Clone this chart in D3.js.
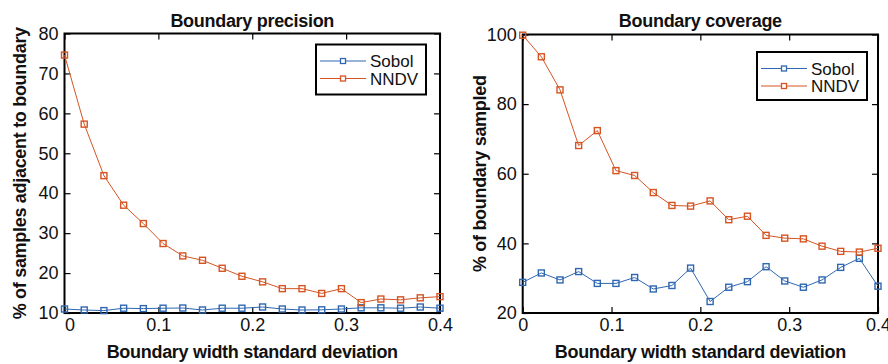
<!DOCTYPE html>
<html>
<head>
<meta charset="utf-8">
<script src="https://cdn.jsdelivr.net/npm/d3@7"></script>
<style>
  body { margin: 0; background: #fff; }
  svg text { font-family: "Liberation Sans", Arial, sans-serif; fill: #111; }
  .title, .xlabel, .ylabel { font-weight: bold; font-size: 18px; letter-spacing: -0.3px; }
  .tick text { font-size: 18px; }
  .legend text { font-size: 17px; }
</style>
</head>
<body>
<div id="chart"></div>
<script>
// x positions: 20 evenly spaced widths from 0 to 0.4
var widths = [0, 0.021, 0.042, 0.063, 0.084, 0.105, 0.126, 0.147, 0.168, 0.189,
  0.211, 0.232, 0.253, 0.274, 0.295, 0.316, 0.337, 0.358, 0.379, 0.4];

// Boundary precision (% of samples adjacent to boundary)
var precisionSobol = [11.0, 10.75, 10.6, 11.2, 11.1, 11.2, 11.25, 10.75, 11.2, 11.2,
  11.5, 11.0, 10.75, 10.8, 11.0, 11.3, 11.3, 11.2, 11.5, 11.2];
var precisionNNDV = [74.6, 57.3, 44.4, 37.0, 32.4, 27.4, 24.3, 23.2, 21.2, 19.2,
  17.8, 16.1, 16.1, 14.9, 16.1, 12.6, 13.5, 13.3, 13.8, 14.1];

// Boundary coverage (% of boundary sampled)
var coverageSobol = [28.8, 31.5, 29.5, 31.9, 28.5, 28.5, 30.2, 26.9, 27.9, 32.9,
  23.3, 27.4, 29.0, 33.3, 29.2, 27.4, 29.5, 33.1, 35.7, 27.7];
var coverageNNDV = [99.8, 93.6, 84.1, 68.1, 72.4, 60.9, 59.5, 54.6, 50.9, 50.7,
  52.2, 46.8, 47.8, 42.3, 41.5, 41.3, 39.2, 37.7, 37.5, 38.6];

var xTicks = [0, 0.1, 0.2, 0.3, 0.4];
var precisionTicks = [10, 20, 30, 40, 50, 60, 70, 80];
var coverageTicks = [20, 40, 60, 80, 100];
var seriesNames = ['Sobol', 'NNDV'];
var colors = ['#2f67b1', '#d55422'];

var svg = d3.select("#chart").append("svg")
  .attr("width", 888)
  .attr("height", 364);

var panels = [
  { title: 'Boundary precision', ylabel: '% of samples adjacent to boundary',
    left: 64.5, right: 440, top: 33.5, bottom: 313, yDomain: [10, 80], yTicks: precisionTicks,
    series: [precisionSobol, precisionNNDV], ylabelX: 20, legend: { x: 316, y: 44.5, w: 110, h: 50 }, nudgeZero: true },
  { title: 'Boundary coverage', ylabel: '% of boundary sampled',
    left: 522.7, right: 878, top: 34.5, bottom: 313, yDomain: [20, 100], yTicks: coverageTicks,
    series: [coverageSobol, coverageNNDV], ylabelX: 480, legend: { x: 757, y: 52, w: 110, h: 48 }, nudgeZero: false }
];

panels.forEach(function (p) {
  var x = d3.scaleLinear().domain([0, 0.4]).range([p.left, p.right]);
  var y = d3.scaleLinear().domain(p.yDomain).range([p.bottom, p.top]);
  var g = svg.append("g");

  // axes with inward ticks on all four sides
  var bottomAxis = g.append("g")
    .attr("transform", "translate(0," + p.bottom + ")")
    .call(d3.axisBottom(x).tickValues(xTicks).tickFormat(d3.format("")).tickSizeInner(-6).tickSizeOuter(0).tickPadding(5));
  if (p.nudgeZero) {
    bottomAxis.selectAll(".tick text").filter(function (d) { return d === 0; }).attr("dx", 5);
  }
  g.append("g")
    .attr("transform", "translate(" + p.left + ",0)")
    .call(d3.axisLeft(y).tickValues(p.yTicks).tickSizeInner(-6).tickSizeOuter(0).tickPadding(6));
  g.append("g")
    .attr("transform", "translate(0," + p.top + ")")
    .call(d3.axisTop(x).tickValues(xTicks).tickFormat("").tickSizeInner(-6).tickSizeOuter(0));
  g.append("g")
    .attr("transform", "translate(" + p.right + ",0)")
    .call(d3.axisRight(y).tickValues(p.yTicks).tickFormat("").tickSizeInner(-6).tickSizeOuter(0));
  g.selectAll(".domain").remove();
  g.selectAll(".tick line").attr("stroke", "#000").attr("stroke-width", 1.2);

  // box
  g.append("rect")
    .attr("x", p.left).attr("y", p.top)
    .attr("width", p.right - p.left).attr("height", p.bottom - p.top)
    .attr("fill", "none").attr("stroke", "#000").attr("stroke-width", 2);

  // series
  p.series.forEach(function (vals, i) {
    var pts = vals.map(function (v, j) { return [widths[j], v]; });
    g.append("path")
      .datum(pts)
      .attr("fill", "none")
      .attr("stroke", colors[i])
      .attr("stroke-width", 1)
      .attr("d", d3.line().x(function (d) { return x(d[0]); }).y(function (d) { return y(d[1]); }));
    g.selectAll(".m" + i)
      .data(pts)
      .enter().append("rect")
      .attr("class", "m" + i)
      .attr("x", function (d) { return x(d[0]) - 3; })
      .attr("y", function (d) { return y(d[1]) - 3; })
      .attr("width", 6).attr("height", 6)
      .attr("fill", "none")
      .attr("stroke", colors[i])
      .attr("stroke-width", 1.4);
  });

  // title and labels
  g.append("text").attr("class", "title")
    .attr("x", (p.left + p.right) / 2).attr("y", 26.5)
    .attr("text-anchor", "middle").text(p.title);
  g.append("text").attr("class", "xlabel")
    .attr("x", (p.left + p.right) / 2).attr("y", 358)
    .attr("text-anchor", "middle").text("Boundary width standard deviation");
  g.append("text").attr("class", "ylabel")
    .attr("transform", "translate(" + p.ylabelX + "," + ((p.top + p.bottom) / 2) + ") rotate(-90)")
    .attr("text-anchor", "middle").attr("dy", "0.35em").text(p.ylabel);

  // legend
  var L = p.legend;
  var legend = g.append("g").attr("class", "legend");
  legend.append("rect")
    .attr("x", L.x).attr("y", L.y).attr("width", L.w).attr("height", L.h)
    .attr("fill", "#fff").attr("stroke", "#000").attr("stroke-width", 2);
  seriesNames.forEach(function (name, i) {
    var ly = L.y + 16.5 + i * 17.5;
    legend.append("line")
      .attr("x1", L.x + 4).attr("x2", L.x + 50)
      .attr("y1", ly).attr("y2", ly)
      .attr("stroke", colors[i]).attr("stroke-width", 1);
    legend.append("rect")
      .attr("x", L.x + 24.5).attr("y", ly - 2.5).attr("width", 5).attr("height", 5)
      .attr("fill", "#fff").attr("stroke", colors[i]).attr("stroke-width", 1.3);
    legend.append("text")
      .attr("x", L.x + 54).attr("y", ly).attr("dy", "0.36em")
      .text(name);
  });
});
</script>
</body>
</html>
